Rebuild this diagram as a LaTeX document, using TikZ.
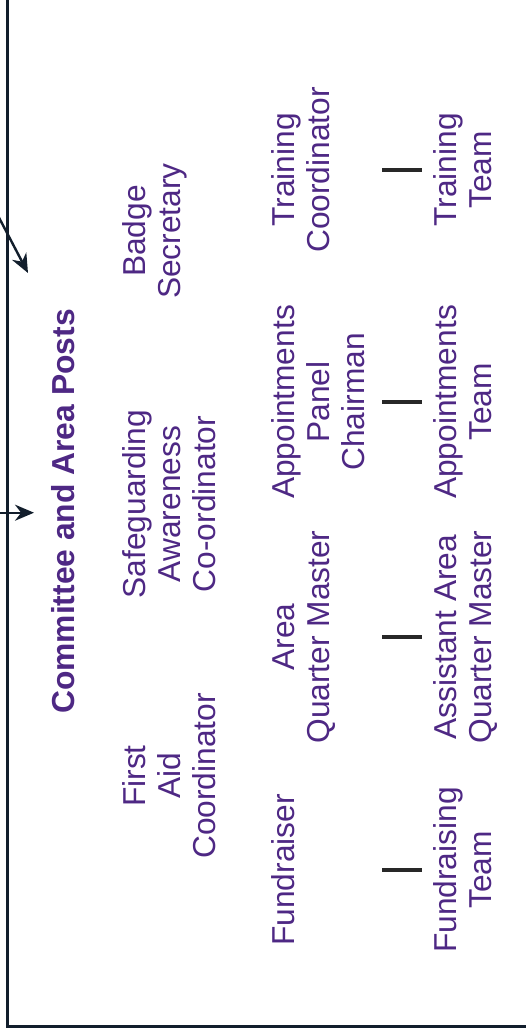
\documentclass[tikz,border=0pt]{standalone}
\usepackage{fontspec}
\setmainfont{Liberation Sans}
\usetikzlibrary{arrows.meta}
\definecolor{postpurple}{RGB}{78,40,132}
\definecolor{frameblue}{RGB}{18,30,44}
\definecolor{linkgray}{RGB}{40,40,40}
\begin{document}
\begin{tikzpicture}[x=1pt,y=1pt,
  post/.style={rotate=90, anchor=base, align=center, inner sep=0pt, text=postpurple,
    font=\fontsize{31.7}{35}\selectfont},
  childpost/.style={post, text height=69.2pt},
  titletext/.style={rotate=90, anchor=base, inner sep=0pt, text=postpurple,
    font=\fontsize{31.8}{36}\selectfont\bfseries},
  link/.style={draw=linkgray, line width=3.2pt},
  frameline/.style={draw=frameblue, line width=2.8pt},
  pointer/.style={draw=frameblue, line width=2.4pt, -{Stealth[length=19pt,width=16pt]}},
]
\useasboundingbox (0,0) rectangle (526,-1034);
\draw[frameline] (7.3,10) -- (7.3,-1026.3) -- (540,-1026.3);

\coordinate (inA) at (-10,-200.4);
\coordinate (tipA) at (28,-273);
\coordinate (inB) at (-5,-512.7);
\coordinate (tipB) at (34,-512.7);
\draw[pointer] (inA) -- (tipA);
\draw[pointer] (inB) -- (tipB);

\node[titletext] (title) at (74.7,-511.5) {Committee and Area Posts};

\node[post] (badge) at (180.2,-231) {Badge\\Secretary};
\node[post] (safe) at (215.2,-504) {Safeguarding\\Awareness\\Co-ordinator};
\node[post] (firstaid) at (215.2,-776) {First\\Aid\\Coordinator};

\node[post, text depth=52.3pt] (training) at (329.7,-170) {Training\\Coordinator};
\node[post, text depth=17.3pt] (appoint) at (364.7,-402) {Appointments\\Panel\\Chairman};
\node[post, text depth=52.3pt] (aqm) at (329.7,-637) {Area\\Quarter Master};
\node[post, text depth=87.3pt] (fundraiser) at (294.7,-870) {Fundraiser};

\node[childpost] (trainteam) at (491.2,-170) {Training\\Team};
\node[childpost] (appteam) at (491.2,-402) {Appointments\\Team};
\node[childpost] (aaqm) at (491.2,-637) {Assistant Area\\Quarter Master};
\node[childpost] (fundteam) at (491.2,-870) {Fundraising\\Team};

\draw[link] (training) -- (trainteam);
\draw[link] (appoint) -- (appteam);
\draw[link] (aqm) -- (aaqm);
\draw[link] (fundraiser) -- (fundteam);
\end{tikzpicture}
\end{document}
